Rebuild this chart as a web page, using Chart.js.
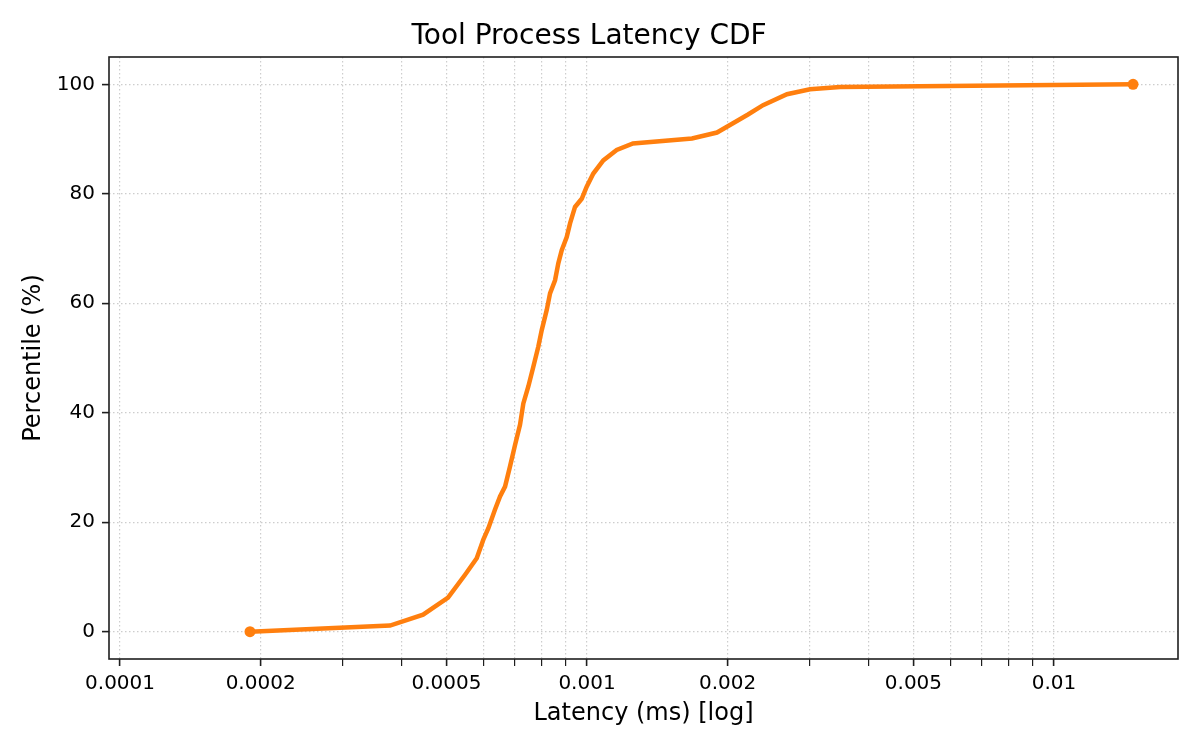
<!DOCTYPE html>
<html>
<head>
<meta charset="utf-8">
<script src="https://cdn.jsdelivr.net/npm/chart.js@4.4.0/dist/chart.umd.min.js"></script>
<style>
  body { margin: 0; background: #fff; }
  #wrap { width: 1200px; height: 750px; }
</style>
</head>
<body>
<div id="wrap"><canvas id="cdf" width="1200" height="750"></canvas></div>
<script>
// latency samples (ms) and their percentile
var latencyMs = [0.0001898, 0.0003786, 0.0004456, 0.000504, 0.0005481, 0.0005805, 0.0005997,
  0.0006148, 0.0006353, 0.0006512, 0.0006675, 0.0006841, 0.0007012, 0.0007186, 0.0007305,
  0.0007487, 0.0007674, 0.0007866, 0.0007999, 0.00082, 0.0008333, 0.0008541, 0.000868,
  0.0008828, 0.0009048, 0.0009197, 0.0009426, 0.0009743, 0.0009984, 0.0010315, 0.0010836,
  0.0011576, 0.0012544, 0.001678, 0.001898, 0.002054, 0.002212, 0.002382, 0.002681,
  0.003003, 0.003482, 0.014766];
var percentile = [0, 1.1, 3.1, 6.2, 10.4, 13.4, 16.8,
  18.9, 22.3, 24.7, 26.5, 30.2, 34.1, 37.8, 41.7,
  44.8, 48.4, 52.1, 55.1, 58.8, 61.8, 64.2, 67.3,
  69.7, 72.1, 74.6, 77.6, 79.1, 81.3, 83.7, 86.1,
  88.0, 89.2, 90.1, 91.2, 92.9, 94.5, 96.2, 98.2,
  99.1, 99.5, 100];

var xTickValues = [0.0001, 0.0002, 0.0005, 0.001, 0.002, 0.005, 0.01];
var xTickLabels = ["0.0001", "0.0002", "0.0005", "0.001", "0.002", "0.005", "0.01"];
var yTicks = [0, 20, 40, 60, 80, 100];

var xMin = 0.0000947, xMax = 0.01843;

// minor log ticks 1..9 per decade (grid lines everywhere, labels only on xTickValues)
function logTicks() {
  var out = [];
  for (var e = -5; e <= -1; e++) {
    for (var m = 1; m <= 9; m++) {
      var v = Number((m * Math.pow(10, e)).toPrecision(6));
      if (v >= xMin && v <= xMax) out.push(v);
    }
  }
  return out;
}
function labelIndex(v) {
  for (var i = 0; i < xTickValues.length; i++) {
    if (Math.abs(v - xTickValues[i]) / xTickValues[i] < 1e-6) return i;
  }
  return -1;
}

var frame = {
  id: 'frame',
  afterDraw: function (chart) {
    var a = chart.chartArea, ctx = chart.ctx;
    ctx.save();
    ctx.strokeStyle = '#1f1f1f';
    ctx.lineWidth = 1.6;
    ctx.strokeRect(a.left, a.top, a.right - a.left, a.bottom - a.top);
    ctx.restore();
  }
};

Chart.defaults.font.family = "'DejaVu Sans', sans-serif";
Chart.defaults.color = '#000';

var pts = latencyMs.map(function (x, i) { return { x: x, y: percentile[i] }; });

new Chart("cdf", {
  type: "line",
  data: {
    datasets: [{
      data: pts,
      borderColor: '#ff7f0e',
      backgroundColor: '#ff7f0e',
      borderWidth: 4.5,
      tension: 0,
      pointRadius: function (ctx) {
        return (ctx.dataIndex === 0 || ctx.dataIndex === pts.length - 1) ? 5.5 : 0;
      },
      pointHoverRadius: 0,
      pointBorderWidth: 0,
      pointBackgroundColor: '#ff7f0e'
    }]
  },
  options: {
    responsive: false,
    animation: false,
    events: [],
    layout: { padding: { left: 0, right: 22, top: 0, bottom: 0 } },
    plugins: {
      legend: { display: false },
      tooltip: { enabled: false },
      title: {
        display: true,
        text: 'Tool Process Latency CDF',
        font: { size: 28, weight: 'normal' },
        color: '#000',
        padding: { top: 20, bottom: 3.4 }
      }
    },
    scales: {
      x: {
        type: 'logarithmic',
        min: xMin,
        max: xMax,
        afterBuildTicks: function (scale) {
          scale.ticks = logTicks().map(function (v) { return { value: v }; });
        },
        afterFit: function (scale) { scale.height = 91; },
        ticks: {
          autoSkip: false,
          maxRotation: 0,
          padding: 6,
          font: { size: 20 },
          callback: function (v) {
            var i = labelIndex(v);
            return i >= 0 ? xTickLabels[i] : '';
          }
        },
        grid: {
          color: 'rgba(200,200,200,0.9)',
          lineWidth: 1.2,
          tickLength: 7,
          tickColor: '#1f1f1f',
          tickWidth: function (ctx) {
            return (ctx.tick && labelIndex(ctx.tick.value) >= 0) ? 1.6 : 1.2;
          }
        },
        border: { display: false, dash: [1.5, 2.5] },
        title: {
          display: true,
          text: 'Latency (ms) [log]',
          font: { size: 24 },
          color: '#000',
          padding: { top: 0, bottom: 22 }
        }
      },
      y: {
        min: -5,
        max: 105,
        afterBuildTicks: function (scale) {
          scale.ticks = yTicks.map(function (v) { return { value: v }; });
        },
        afterFit: function (scale) { scale.width = 109; },
        ticks: { padding: 7, font: { size: 20 } },
        grid: {
          color: 'rgba(200,200,200,0.9)',
          lineWidth: 1.2,
          tickLength: 7,
          tickColor: '#1f1f1f',
          tickWidth: 1.6
        },
        border: { display: false, dash: [1.5, 2.5] },
        title: {
          display: true,
          text: 'Percentile (%)',
          font: { size: 24 },
          color: '#000',
          padding: { top: 19, bottom: 0 }
        }
      }
    }
  },
  plugins: [frame]
});
</script>
</body>
</html>
